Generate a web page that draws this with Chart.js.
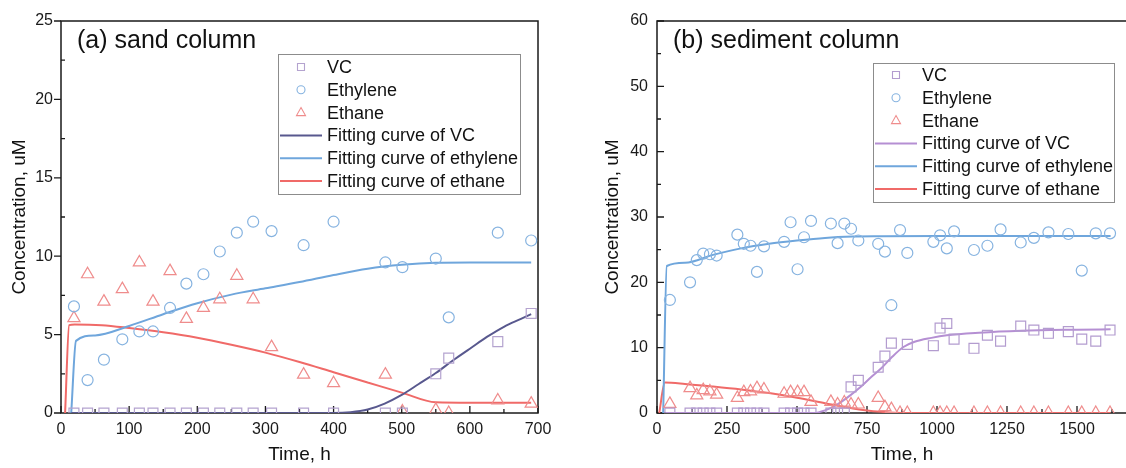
<!DOCTYPE html>
<html>
<head>
<meta charset="utf-8">
<script src="https://cdn.jsdelivr.net/npm/chart.js@4.4.0/dist/chart.umd.min.js"></script>
<style>
html, body { margin: 0; padding: 0; background: #fff; overflow: hidden; width: 1126px; height: 468px; }
#sand { position: absolute; left: 0; top: 0; }
#sed { position: absolute; left: 563px; top: 0; }
</style>
</head>
<body>
<canvas id="sand" width="563" height="468"></canvas>
<canvas id="sed" width="594" height="468"></canvas>
<script>
// (a) sand column - measured points
const sandTime = [19, 39, 63, 90, 115, 135, 160, 184, 209, 233, 258, 282, 309, 356, 400, 476, 501, 550, 569, 641, 690];
const sandVC = [0, 0, 0, 0, 0, 0, 0, 0, 0, 0, 0, 0, 0, 0, 0, 0, 0, 2.5, 3.5, 4.55, 6.35];
const sandEthylene = [6.8, 2.1, 3.4, 4.7, 5.2, 5.2, 6.7, 8.25, 8.85, 10.3, 11.5, 12.2, 11.6, 10.7, 12.2, 9.6, 9.3, 9.85, 6.1, 11.5, 11.0];
const sandEthane = [6.05, 8.85, 7.1, 7.9, 9.6, 7.1, 9.05, 6.0, 6.7, 7.25, 8.75, 7.25, 4.2, 2.45, 1.9, 2.45, 0.1, 0.2, 0, 0.8, 0.6];

// (a) fitting curves
const sandFitVCTime = [15, 400, 425, 450, 475, 500, 525, 550, 575, 600, 625, 650, 675, 690];
const sandFitVC = [0, 0, 0.05, 0.22, 0.6, 1.15, 1.85, 2.55, 3.35, 4.1, 4.85, 5.5, 6.0, 6.3];
const sandFitEthyleneTime = [15, 22, 50, 100, 150, 200, 250, 300, 350, 400, 450, 500, 550, 600, 690];
const sandFitEthylene = [0, 4.6, 4.95, 5.55, 6.3, 7.0, 7.55, 7.95, 8.35, 8.8, 9.2, 9.45, 9.58, 9.6, 9.6];
const sandFitEthaneTime = [6, 12, 20, 60, 100, 150, 200, 250, 300, 350, 400, 450, 500, 550, 600, 690];
const sandFitEthane = [0, 5.6, 5.65, 5.6, 5.42, 5.15, 4.8, 4.35, 3.85, 3.25, 2.6, 1.95, 1.3, 0.68, 0.65, 0.65];

// (b) sediment column - measured points
const sedTime = [46, 118, 142, 165, 189, 213, 287, 310, 334, 357, 382, 454, 477, 502, 525, 550, 621, 645, 669, 693,
  719, 790, 814, 837, 868, 894, 987, 1011, 1035, 1061, 1132, 1180, 1227, 1299, 1346, 1398, 1469, 1517, 1567, 1618];
const sedVC = [0, 0, 0, 0, 0, 0, 0, 0, 0, 0, 0, 0, 0, 0, 0, 0, 0, 0, 0, 4.0,
  5.0, 7.0, 8.7, 10.7, null, 10.5, 10.3, 13.0, 13.7, 11.3, 9.9, 11.9, 11.0, 13.3, 12.7, 12.2, 12.45, 11.3, 11.0, 12.7];
const sedEthylene = [17.3, 20.0, 23.4, 24.4, 24.3, 24.1, 27.3, 25.9, 25.6, 21.6, 25.5, 26.2, 29.2, 22.0, 26.9, 29.4, 29.0, 26.0, 29.0, 28.2,
  26.4, 25.9, 24.7, 16.5, 28.0, 24.5, 26.2, 27.2, 25.2, 27.8, 24.95, 25.6, 28.1, 26.1, 26.8, 27.65, 27.4, 21.8, 27.5, 27.5];
const sedEthane = [1.4, 3.8, 2.7, 3.5, 3.3, 2.8, 2.3, 3.2, 3.3, 3.8, 3.6, 2.95, 3.2, 3.2, 3.2, 1.7, 1.7, 1.3, 1.6, 1.3,
  1.3, 2.3, 0.9, 0.6, 0, 0, 0, 0, 0, 0, 0, 0, 0, 0, 0, 0, 0, 0, 0, 0];

// (b) fitting curves
const sedFitVCTime = [30, 560, 600, 640, 690, 730, 765, 800, 840, 880, 920, 980, 1035, 1150, 1300, 1500, 1620];
const sedFitVC = [0, 0, 0.4, 1.2, 2.7, 4.1, 5.5, 6.8, 8.6, 10.1, 10.9, 11.5, 11.9, 12.3, 12.6, 12.75, 12.8];
const sedFitEthyleneTime = [22, 35, 100, 200, 300, 400, 500, 600, 700, 800, 1000, 1620];
const sedFitEthylene = [0, 22.5, 23.0, 24.2, 25.2, 25.9, 26.4, 26.8, 27.0, 27.05, 27.1, 27.1];
const sedFitEthaneTime = [8, 28, 100, 200, 300, 400, 500, 600, 700, 750, 800, 850, 900, 1620];
const sedFitEthane = [0, 4.65, 4.45, 4.05, 3.6, 3.05, 2.35, 1.5, 0.68, 0.4, 0.2, 0.05, 0, 0];

const FONT = '"Liberation Sans", Arial, sans-serif';

function pts(xs, ys) {
    return xs.map((t, i) => ({ x: t, y: ys[i] }));
}

function markers(label, data, style, radius, color) {
    return {
        label: label, data: data, showLine: false, pointStyle: style, pointRadius: radius,
        pointBorderWidth: 1.2, borderColor: color, backgroundColor: 'rgba(0,0,0,0)', legendKind: style
    };
}

function curve(label, data, color) {
    return {
        label: label, data: data, showLine: true, pointRadius: 0, borderWidth: 2,
        borderColor: color, backgroundColor: color, cubicInterpolationMode: 'monotone', legendKind: 'line'
    };
}

// frame + inward ticks
const framePlugin = {
    id: 'frame',
    beforeDatasetsDraw(chart, args, o) {
        const { ctx, chartArea: a, scales: { x, y } } = chart;
        ctx.save();
        ctx.strokeStyle = '#1a1a1a';
        ctx.lineWidth = 1.5;
        ctx.strokeRect(a.left, a.top, a.right - a.left, a.bottom - a.top);
        ctx.lineWidth = 1.3;
        ctx.beginPath();
        for (let v = x.min; v <= x.max; v += o.xMinor) {
            const px = x.getPixelForValue(v);
            const major = Math.abs(v / o.xMajor - Math.round(v / o.xMajor)) < 1e-6;
            ctx.moveTo(px, a.bottom);
            ctx.lineTo(px, a.bottom - (major ? 7 : 4));
        }
        for (let v = y.min; v <= y.max; v += o.yMinor) {
            const py = y.getPixelForValue(v);
            const major = Math.abs(v / o.yMajor - Math.round(v / o.yMajor)) < 1e-6;
            ctx.moveTo(a.left, py);
            ctx.lineTo(a.left + (major ? o.yMajorDir * 7 : 4), py);
        }
        ctx.stroke();
        ctx.restore();
    }
};

// panel title + boxed legend inside the plot
const legendPlugin = {
    id: 'boxLegend',
    afterDraw(chart, args, o) {
        const { ctx, chartArea: a } = chart;
        ctx.save();
        ctx.fillStyle = '#111';
        ctx.font = '25px ' + FONT;
        ctx.textBaseline = 'alphabetic';
        ctx.fillText(o.title, a.left + 16, a.top + 27);

        const bx = a.left + o.x, by = a.top + o.y;
        ctx.fillStyle = '#fff';
        ctx.fillRect(bx, by, o.w, o.h);
        ctx.strokeStyle = '#8c8c8c';
        ctx.lineWidth = 1;
        ctx.strokeRect(bx + 0.5, by + 0.5, o.w, o.h);
        ctx.font = '18px ' + FONT;
        ctx.textBaseline = 'middle';
        chart.data.datasets.forEach((ds, i) => {
            const cy = by + o.row0 + i * 22.8;
            const cx = bx + 23;
            ctx.strokeStyle = ds.borderColor;
            ctx.lineWidth = ds.legendKind === 'line' ? 2 : 1.1;
            ctx.beginPath();
            if (ds.legendKind === 'line') {
                ctx.moveTo(bx + 2, cy);
                ctx.lineTo(bx + 44, cy);
            } else if (ds.legendKind === 'rect') {
                ctx.rect(cx - 3.5, cy - 3.5, 7, 7);
            } else if (ds.legendKind === 'circle') {
                ctx.arc(cx, cy, 4, 0, Math.PI * 2);
            } else {
                ctx.moveTo(cx, cy - 5);
                ctx.lineTo(cx + 4.5, cy + 3);
                ctx.lineTo(cx - 4.5, cy + 3);
                ctx.closePath();
            }
            ctx.stroke();
            ctx.fillStyle = '#111';
            ctx.fillText(ds.label, bx + 49, cy + 1);
        });
        ctx.restore();
    }
};

function axisOpts(min, max, step, titleText, size, titlePad, tickPad, labelMax) {
    return {
        type: 'linear', min: min, max: max,
        grid: { display: false, drawTicks: false },
        border: { display: false },
        ticks: {
            stepSize: step, padding: tickPad, color: '#1a1a1a', autoSkip: false, maxRotation: 0,
            font: { family: FONT, size: 16 },
            callback: v => (v <= labelMax ? String(v) : '')
        },
        title: { display: true, text: titleText, color: '#111', font: { family: FONT, size: 19 }, padding: titlePad },
        afterFit(s) { if (s.isHorizontal()) s.height = size; else s.width = size; }
    };
}

// Chart for (a) sand column
new Chart(document.getElementById('sand'), {
    type: 'scatter',
    data: {
        datasets: [
            markers('VC', pts(sandTime, sandVC), 'rect', 7, '#b4a3cf'),
            markers('Ethylene', pts(sandTime, sandEthylene), 'circle', 5.5, '#86b3e0'),
            markers('Ethane', pts(sandTime, sandEthane), 'triangle', 7, '#ef8c8c'),
            curve('Fitting curve of VC', pts(sandFitVCTime, sandFitVC), '#58588e'),
            curve('Fitting curve of ethylene', pts(sandFitEthyleneTime, sandFitEthylene), '#6fa6dc'),
            curve('Fitting curve of ethane', pts(sandFitEthaneTime, sandFitEthane), '#f06a68')
        ]
    },
    options: {
        responsive: false,
        animation: false,
        devicePixelRatio: 1,
        layout: { padding: { top: 21, right: 25, left: 0, bottom: 0 } },
        plugins: {
            legend: { display: false },
            tooltip: { enabled: false },
            frame: { xMajor: 100, xMinor: 50, yMajor: 5, yMinor: 2.5, yMajorDir: -1 },
            boxLegend: { title: '(a) sand column', x: 217, y: 33, w: 242, h: 140, row0: 13 }
        },
        scales: {
            x: axisOpts(0, 700, 100, 'Time, h', 55, { top: 0, bottom: 2 }, 7, 700),
            y: axisOpts(0, 25, 5, 'Concentration, uM', 61, { top: 8.6, bottom: 0 }, 8, 25)
        }
    },
    plugins: [framePlugin, legendPlugin]
});

// Chart for (b) sediment column (plot runs past the right edge of the window)
new Chart(document.getElementById('sed'), {
    type: 'scatter',
    data: {
        datasets: [
            markers('VC', pts(sedTime, sedVC), 'rect', 7, '#b39ccf'),
            markers('Ethylene', pts(sedTime, sedEthylene), 'circle', 5.5, '#86b3e0'),
            markers('Ethane', pts(sedTime, sedEthane), 'triangle', 7, '#ef8c8c'),
            curve('Fitting curve of VC', pts(sedFitVCTime, sedFitVC), '#b58fd3'),
            curve('Fitting curve of ethylene', pts(sedFitEthyleneTime, sedFitEthylene), '#6fa6dc'),
            curve('Fitting curve of ethane', pts(sedFitEthaneTime, sedFitEthane), '#f06a68')
        ]
    },
    options: {
        responsive: false,
        animation: false,
        devicePixelRatio: 1,
        layout: { padding: { top: 21, right: 10, left: 0, bottom: 0 } },
        plugins: {
            legend: { display: false },
            tooltip: { enabled: false },
            frame: { xMajor: 250, xMinor: 125, yMajor: 10, yMinor: 5, yMajorDir: 1 },
            boxLegend: { title: '(b) sediment column', x: 216, y: 42, w: 241, h: 139, row0: 12 }
        },
        scales: {
            x: axisOpts(0, 1750, 250, 'Time, h', 55, { top: 0, bottom: 2 }, 7, 1500),
            y: axisOpts(0, 60, 10, 'Concentration, uM', 94, { top: 38.6, bottom: 0 }, 9, 60)
        }
    },
    plugins: [framePlugin, legendPlugin]
});
</script>
</body>
</html>
